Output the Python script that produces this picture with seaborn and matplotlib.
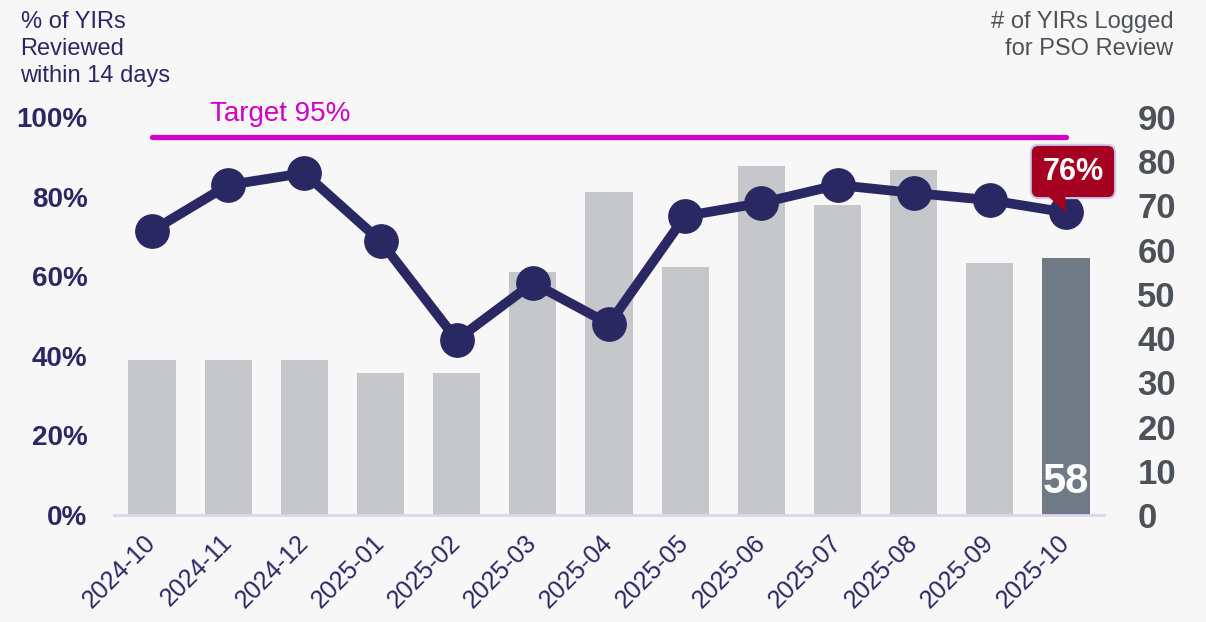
import numpy as np
import matplotlib
matplotlib.use('Agg')
import matplotlib.pyplot as plt
import matplotlib.transforms as mtransforms
from matplotlib.patches import Polygon
import seaborn as sns

# data
months = ['2024-10', '2024-11', '2024-12', '2025-01', '2025-02', '2025-03', '2025-04',
          '2025-05', '2025-06', '2025-07', '2025-08', '2025-09', '2025-10']
logged = [35, 35, 35, 32, 32, 55, 73, 56, 79, 70, 78, 57, 58]
pct_reviewed = [0.714, 0.829, 0.859, 0.688, 0.440, 0.583, 0.480,
                0.751, 0.784, 0.829, 0.809, 0.791, 0.76]
target = 0.95

NAVY = '#2a2863'
GREY_TXT = '#4d5259'
RED = '#a5001f'
BG = '#f7f7f7'

sns.set_style('white')
plt.rcParams['font.family'] = ['Liberation Sans', 'DejaVu Sans']

fig = plt.figure(figsize=(12.06, 6.22), dpi=100, facecolor=BG)
ax = fig.add_axes([0.0945, 0.172, 0.821, 0.640])
ax2 = ax.twinx()

# bars on right axis
bar_colors = ['#c5c7cb'] * (len(months) - 1) + ['#6f7a84']
sns.barplot(x=months, y=logged, hue=months, palette=bar_colors, legend=False,
            width=0.62, ax=ax2, saturation=1, linewidth=0)
ax2.set_ylim(0, 90)
ax2.set_yticks(range(0, 91, 10))
ax2.tick_params(axis='y', labelsize=25, pad=24, length=0, labelcolor=GREY_TXT)
for lab in ax2.get_yticklabels():
    lab.set_fontweight('bold')
ax2.text(len(months) - 1, 7.5, str(logged[-1]), ha='center', va='center',
         color='white', fontsize=30, fontweight='bold')
ax2.set_xlabel('')

# line on left axis, drawn above bars
ax.set_zorder(ax2.get_zorder() + 1)
ax.patch.set_visible(False)
x = np.arange(len(months))
ax.plot(x, pct_reviewed, color=NAVY, lw=7, marker='o', markersize=24,
        solid_joinstyle='round', zorder=3)
ax.plot([0, len(months) - 1], [target, target], color='#d000c8', lw=3.8,
        solid_capstyle='round', zorder=2)
ax.text(1.68, 0.99, 'Target 95%', color='#d000c8', fontsize=20, ha='center',
        va='baseline', clip_on=False)

# callout for the latest month
ax.annotate(f'{pct_reviewed[-1]:.0%}', xy=(x[-1], pct_reviewed[-1]),
            xytext=(5, 29.5), textcoords='offset points', ha='center', va='center',
            color='white', fontsize=22, fontweight='bold', zorder=5,
            bbox=dict(boxstyle='round,pad=0.38,rounding_size=0.25', fc=RED,
                      ec='#c9c5ec', lw=1.5))
# tail of the callout, vertices in points relative to the last point
tail_tr = (mtransforms.Affine2D().scale(1 / 72) + fig.dpi_scale_trans
           + mtransforms.ScaledTranslation(x[-1], pct_reviewed[-1], ax.transData))
tail = Polygon([(-15, 13.5), (-0.6, 13.5), (0, 0)], closed=True,
               transform=tail_tr, fc=RED, ec='none', zorder=6, clip_on=False)
ax.add_artist(tail)

ax.set_xlim(-0.5, len(months) - 0.5)
ax.set_ylim(0, 1.0)
ax.set_yticks(np.arange(0, 1.01, 0.2))
ax.set_yticklabels([f'{v:.0%}' for v in np.arange(0, 1.01, 0.2)])
ax.tick_params(axis='y', labelsize=20, pad=19, length=0, labelcolor=NAVY)
for lab in ax.get_yticklabels():
    lab.set_fontweight('bold')

ax.set_xticks(x)
ax.set_xticklabels(months, rotation=45, ha='right', va='center', rotation_mode='anchor',
                   fontsize=18, color=NAVY)
ax.tick_params(axis='x', length=0, pad=17, labelbottom=True)

for a in (ax, ax2):
    for s in ['top', 'left', 'right', 'bottom']:
        a.spines[s].set_visible(False)
ax2.spines['bottom'].set_visible(True)
ax2.spines['bottom'].set_color('#d9d6ef')
ax2.spines['bottom'].set_linewidth(2)

fig.text(0.017, 0.982, '% of YIRs\nReviewed\nwithin 14 days', ha='left', va='top',
         fontsize=17, color=NAVY, linespacing=1.3)
fig.text(0.973, 0.982, '# of YIRs Logged\nfor PSO Review', ha='right', va='top',
         fontsize=17, color=GREY_TXT, linespacing=1.3)

fig.savefig('out.png', dpi=100, facecolor=BG)
